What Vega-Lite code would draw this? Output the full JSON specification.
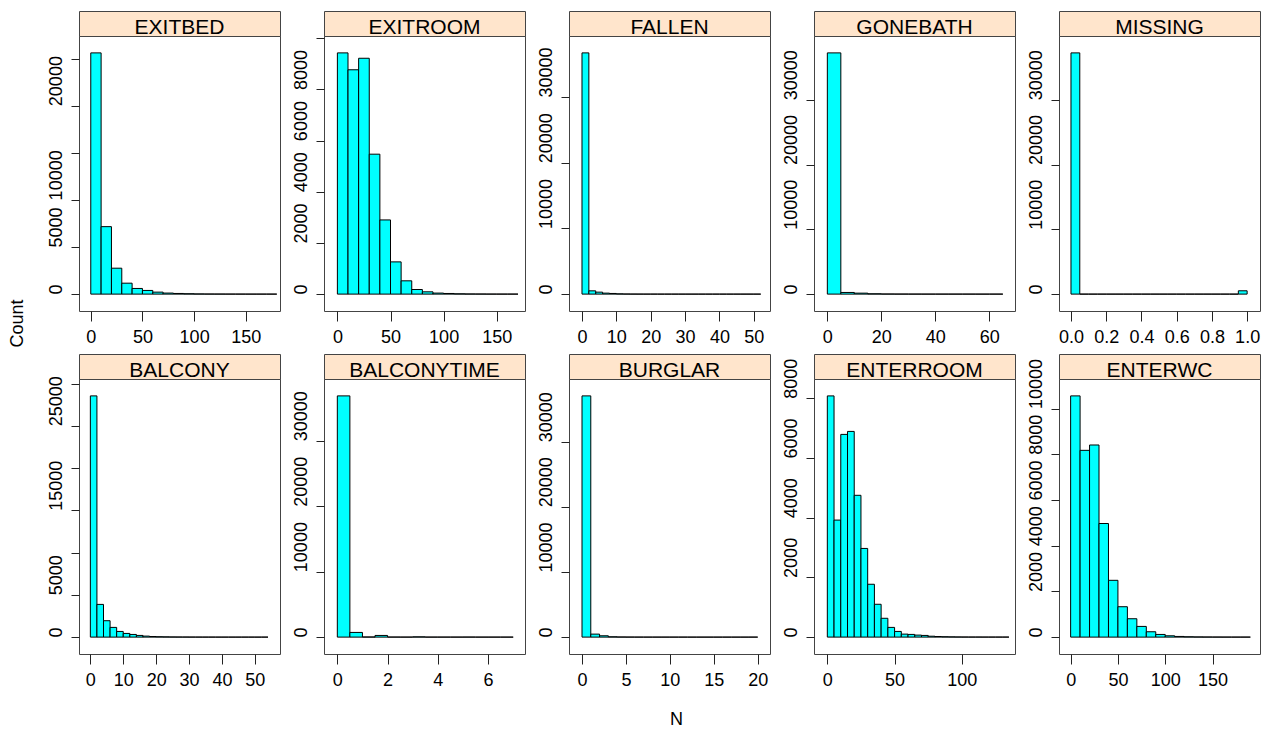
{
"$schema":"https://vega.github.io/schema/vega-lite/v6.json",
"padding":{"left":7,"top":10,"right":5,"bottom":5},
"background":"white",
"config":{
 "font":"Liberation Sans",
 "view":{"stroke":"#444","strokeWidth":1},
 "axis":{"labelFont":"Liberation Sans","labelFontSize":18,"labelColor":"#000","tickColor":"#222","domain":false,"grid":false,"titleFont":"Liberation Sans","titleFontSize":18,"titleColor":"#000","titleFontWeight":"normal","labelOverlap":false,"labelFlush":false,"labelBound":false},
 "axisY":{"labelAngle":270,"labelAlign":"left","labelBaseline":"bottom","labelPadding":6,"tickSize":8,"format":"d"},
 "axisX":{"tickSize":10,"labelPadding":7,"labelAngle":0}
},
"datasets":{"hist":[
{"panel":"EXITBED","lo":0,"hi":10,"count":25600},{"panel":"EXITBED","lo":10,"hi":20,"count":7160},{"panel":"EXITBED","lo":20,"hi":30,"count":2750},{"panel":"EXITBED","lo":30,"hi":40,"count":1160},{"panel":"EXITBED","lo":40,"hi":50,"count":600},{"panel":"EXITBED","lo":50,"hi":60,"count":390},{"panel":"EXITBED","lo":60,"hi":70,"count":210},{"panel":"EXITBED","lo":70,"hi":80,"count":110},{"panel":"EXITBED","lo":80,"hi":90,"count":70},{"panel":"EXITBED","lo":90,"hi":100,"count":40},{"panel":"EXITBED","lo":100,"hi":110,"count":20},{"panel":"EXITBED","lo":110,"hi":120,"count":12},{"panel":"EXITBED","lo":120,"hi":130,"count":8},{"panel":"EXITBED","lo":130,"hi":140,"count":5},{"panel":"EXITBED","lo":140,"hi":150,"count":3},{"panel":"EXITBED","lo":150,"hi":160,"count":2},{"panel":"EXITBED","lo":160,"hi":170,"count":1},{"panel":"EXITBED","lo":170,"hi":180,"count":1},
{"panel":"EXITROOM","lo":0,"hi":10,"count":9430},{"panel":"EXITROOM","lo":10,"hi":20,"count":8770},{"panel":"EXITROOM","lo":20,"hi":30,"count":9220},{"panel":"EXITROOM","lo":30,"hi":40,"count":5470},{"panel":"EXITROOM","lo":40,"hi":50,"count":2900},{"panel":"EXITROOM","lo":50,"hi":60,"count":1260},{"panel":"EXITROOM","lo":60,"hi":70,"count":520},{"panel":"EXITROOM","lo":70,"hi":80,"count":180},{"panel":"EXITROOM","lo":80,"hi":90,"count":90},{"panel":"EXITROOM","lo":90,"hi":100,"count":40},{"panel":"EXITROOM","lo":100,"hi":110,"count":25},{"panel":"EXITROOM","lo":110,"hi":120,"count":12},{"panel":"EXITROOM","lo":120,"hi":130,"count":6},{"panel":"EXITROOM","lo":130,"hi":140,"count":4},{"panel":"EXITROOM","lo":140,"hi":150,"count":2},{"panel":"EXITROOM","lo":150,"hi":160,"count":1},{"panel":"EXITROOM","lo":160,"hi":170,"count":1},
{"panel":"FALLEN","lo":0,"hi":2,"count":36720},{"panel":"FALLEN","lo":2,"hi":4,"count":500},{"panel":"FALLEN","lo":4,"hi":6,"count":300},{"panel":"FALLEN","lo":6,"hi":8,"count":150},{"panel":"FALLEN","lo":8,"hi":10,"count":100},{"panel":"FALLEN","lo":10,"hi":12,"count":40},{"panel":"FALLEN","lo":12,"hi":14,"count":20},{"panel":"FALLEN","lo":14,"hi":16,"count":10},{"panel":"FALLEN","lo":16,"hi":18,"count":5},{"panel":"FALLEN","lo":18,"hi":20,"count":3},{"panel":"FALLEN","lo":20,"hi":22,"count":2},{"panel":"FALLEN","lo":22,"hi":24,"count":1},{"panel":"FALLEN","lo":24,"hi":26,"count":1},{"panel":"FALLEN","lo":26,"hi":28,"count":1},{"panel":"FALLEN","lo":28,"hi":30,"count":0},{"panel":"FALLEN","lo":30,"hi":32,"count":0},{"panel":"FALLEN","lo":32,"hi":34,"count":0},{"panel":"FALLEN","lo":34,"hi":36,"count":0},{"panel":"FALLEN","lo":36,"hi":38,"count":0},{"panel":"FALLEN","lo":38,"hi":40,"count":0},{"panel":"FALLEN","lo":40,"hi":42,"count":0},{"panel":"FALLEN","lo":42,"hi":44,"count":0},{"panel":"FALLEN","lo":44,"hi":46,"count":0},{"panel":"FALLEN","lo":46,"hi":48,"count":0},{"panel":"FALLEN","lo":48,"hi":50,"count":0},{"panel":"FALLEN","lo":50,"hi":52,"count":1},
{"panel":"GONEBATH","lo":0,"hi":5,"count":37230},{"panel":"GONEBATH","lo":5,"hi":10,"count":256},{"panel":"GONEBATH","lo":10,"hi":15,"count":150},{"panel":"GONEBATH","lo":15,"hi":20,"count":50},{"panel":"GONEBATH","lo":20,"hi":25,"count":20},{"panel":"GONEBATH","lo":25,"hi":30,"count":10},{"panel":"GONEBATH","lo":30,"hi":35,"count":5},{"panel":"GONEBATH","lo":35,"hi":40,"count":3},{"panel":"GONEBATH","lo":40,"hi":45,"count":2},{"panel":"GONEBATH","lo":45,"hi":50,"count":1},{"panel":"GONEBATH","lo":50,"hi":55,"count":1},{"panel":"GONEBATH","lo":55,"hi":60,"count":0},{"panel":"GONEBATH","lo":60,"hi":65,"count":1},
{"panel":"MISSING","lo":0,"hi":0.05,"count":37230},{"panel":"MISSING","lo":0.05,"hi":0.1,"count":0},{"panel":"MISSING","lo":0.1,"hi":0.15,"count":0},{"panel":"MISSING","lo":0.15,"hi":0.2,"count":0},{"panel":"MISSING","lo":0.2,"hi":0.25,"count":0},{"panel":"MISSING","lo":0.25,"hi":0.3,"count":0},{"panel":"MISSING","lo":0.3,"hi":0.35,"count":0},{"panel":"MISSING","lo":0.35,"hi":0.4,"count":0},{"panel":"MISSING","lo":0.4,"hi":0.45,"count":0},{"panel":"MISSING","lo":0.45,"hi":0.5,"count":0},{"panel":"MISSING","lo":0.5,"hi":0.55,"count":0},{"panel":"MISSING","lo":0.55,"hi":0.6,"count":0},{"panel":"MISSING","lo":0.6,"hi":0.65,"count":0},{"panel":"MISSING","lo":0.65,"hi":0.7,"count":0},{"panel":"MISSING","lo":0.7,"hi":0.75,"count":0},{"panel":"MISSING","lo":0.75,"hi":0.8,"count":0},{"panel":"MISSING","lo":0.8,"hi":0.85,"count":0},{"panel":"MISSING","lo":0.85,"hi":0.9,"count":0},{"panel":"MISSING","lo":0.9,"hi":0.95,"count":0},{"panel":"MISSING","lo":0.95,"hi":1.0,"count":513},
{"panel":"BALCONY","lo":0,"hi":2,"count":28540},{"panel":"BALCONY","lo":2,"hi":4,"count":3870},{"panel":"BALCONY","lo":4,"hi":6,"count":1940},{"panel":"BALCONY","lo":6,"hi":8,"count":1150},{"panel":"BALCONY","lo":8,"hi":10,"count":670},{"panel":"BALCONY","lo":10,"hi":12,"count":435},{"panel":"BALCONY","lo":12,"hi":14,"count":316},{"panel":"BALCONY","lo":14,"hi":16,"count":200},{"panel":"BALCONY","lo":16,"hi":18,"count":120},{"panel":"BALCONY","lo":18,"hi":20,"count":70},{"panel":"BALCONY","lo":20,"hi":22,"count":45},{"panel":"BALCONY","lo":22,"hi":24,"count":30},{"panel":"BALCONY","lo":24,"hi":26,"count":20},{"panel":"BALCONY","lo":26,"hi":28,"count":15},{"panel":"BALCONY","lo":28,"hi":30,"count":10},{"panel":"BALCONY","lo":30,"hi":32,"count":7},{"panel":"BALCONY","lo":32,"hi":34,"count":5},{"panel":"BALCONY","lo":34,"hi":36,"count":4},{"panel":"BALCONY","lo":36,"hi":38,"count":3},{"panel":"BALCONY","lo":38,"hi":40,"count":2},{"panel":"BALCONY","lo":40,"hi":42,"count":2},{"panel":"BALCONY","lo":42,"hi":44,"count":1},{"panel":"BALCONY","lo":44,"hi":46,"count":1},{"panel":"BALCONY","lo":46,"hi":48,"count":1},{"panel":"BALCONY","lo":48,"hi":50,"count":1},{"panel":"BALCONY","lo":50,"hi":52,"count":0},{"panel":"BALCONY","lo":52,"hi":54,"count":1},
{"panel":"BALCONYTIME","lo":0,"hi":0.5,"count":36850},{"panel":"BALCONYTIME","lo":0.5,"hi":1,"count":714},{"panel":"BALCONYTIME","lo":1,"hi":1.5,"count":20},{"panel":"BALCONYTIME","lo":1.5,"hi":2,"count":255},{"panel":"BALCONYTIME","lo":2,"hi":2.5,"count":10},{"panel":"BALCONYTIME","lo":2.5,"hi":3,"count":5},{"panel":"BALCONYTIME","lo":3,"hi":3.5,"count":40},{"panel":"BALCONYTIME","lo":3.5,"hi":4,"count":5},{"panel":"BALCONYTIME","lo":4,"hi":4.5,"count":5},{"panel":"BALCONYTIME","lo":4.5,"hi":5,"count":3},{"panel":"BALCONYTIME","lo":5,"hi":5.5,"count":8},{"panel":"BALCONYTIME","lo":5.5,"hi":6,"count":2},{"panel":"BALCONYTIME","lo":6,"hi":6.5,"count":2},{"panel":"BALCONYTIME","lo":6.5,"hi":7,"count":1},
{"panel":"BURGLAR","lo":0,"hi":1,"count":37030},{"panel":"BURGLAR","lo":1,"hi":2,"count":460},{"panel":"BURGLAR","lo":2,"hi":3,"count":205},{"panel":"BURGLAR","lo":3,"hi":4,"count":50},{"panel":"BURGLAR","lo":4,"hi":5,"count":20},{"panel":"BURGLAR","lo":5,"hi":6,"count":10},{"panel":"BURGLAR","lo":6,"hi":7,"count":5},{"panel":"BURGLAR","lo":7,"hi":8,"count":3},{"panel":"BURGLAR","lo":8,"hi":9,"count":2},{"panel":"BURGLAR","lo":9,"hi":10,"count":1},{"panel":"BURGLAR","lo":10,"hi":11,"count":1},{"panel":"BURGLAR","lo":11,"hi":12,"count":1},{"panel":"BURGLAR","lo":12,"hi":13,"count":0},{"panel":"BURGLAR","lo":13,"hi":14,"count":0},{"panel":"BURGLAR","lo":14,"hi":15,"count":0},{"panel":"BURGLAR","lo":15,"hi":16,"count":0},{"panel":"BURGLAR","lo":16,"hi":17,"count":0},{"panel":"BURGLAR","lo":17,"hi":18,"count":0},{"panel":"BURGLAR","lo":18,"hi":19,"count":0},{"panel":"BURGLAR","lo":19,"hi":20,"count":1},
{"panel":"ENTERROOM","lo":0,"hi":5,"count":8080},{"panel":"ENTERROOM","lo":5,"hi":10,"count":3920},{"panel":"ENTERROOM","lo":10,"hi":15,"count":6790},{"panel":"ENTERROOM","lo":15,"hi":20,"count":6890},{"panel":"ENTERROOM","lo":20,"hi":25,"count":4750},{"panel":"ENTERROOM","lo":25,"hi":30,"count":2970},{"panel":"ENTERROOM","lo":30,"hi":35,"count":1770},{"panel":"ENTERROOM","lo":35,"hi":40,"count":1100},{"panel":"ENTERROOM","lo":40,"hi":45,"count":630},{"panel":"ENTERROOM","lo":45,"hi":50,"count":325},{"panel":"ENTERROOM","lo":50,"hi":55,"count":190},{"panel":"ENTERROOM","lo":55,"hi":60,"count":100},{"panel":"ENTERROOM","lo":60,"hi":65,"count":90},{"panel":"ENTERROOM","lo":65,"hi":70,"count":67},{"panel":"ENTERROOM","lo":70,"hi":75,"count":56},{"panel":"ENTERROOM","lo":75,"hi":80,"count":30},{"panel":"ENTERROOM","lo":80,"hi":85,"count":20},{"panel":"ENTERROOM","lo":85,"hi":90,"count":12},{"panel":"ENTERROOM","lo":90,"hi":95,"count":8},{"panel":"ENTERROOM","lo":95,"hi":100,"count":5},{"panel":"ENTERROOM","lo":100,"hi":105,"count":3},{"panel":"ENTERROOM","lo":105,"hi":110,"count":2},{"panel":"ENTERROOM","lo":110,"hi":115,"count":2},{"panel":"ENTERROOM","lo":115,"hi":120,"count":1},{"panel":"ENTERROOM","lo":120,"hi":125,"count":1},{"panel":"ENTERROOM","lo":125,"hi":130,"count":1},{"panel":"ENTERROOM","lo":130,"hi":135,"count":1},
{"panel":"ENTERWC","lo":0,"hi":10,"count":10556},{"panel":"ENTERWC","lo":10,"hi":20,"count":8173},{"panel":"ENTERWC","lo":20,"hi":30,"count":8407},{"panel":"ENTERWC","lo":30,"hi":40,"count":4971},{"panel":"ENTERWC","lo":40,"hi":50,"count":2485},{"panel":"ENTERWC","lo":50,"hi":60,"count":1330},{"panel":"ENTERWC","lo":60,"hi":70,"count":804},{"panel":"ENTERWC","lo":70,"hi":80,"count":468},{"panel":"ENTERWC","lo":80,"hi":90,"count":234},{"panel":"ENTERWC","lo":90,"hi":100,"count":117},{"panel":"ENTERWC","lo":100,"hi":110,"count":58},{"panel":"ENTERWC","lo":110,"hi":120,"count":29},{"panel":"ENTERWC","lo":120,"hi":130,"count":15},{"panel":"ENTERWC","lo":130,"hi":140,"count":8},{"panel":"ENTERWC","lo":140,"hi":150,"count":5},{"panel":"ENTERWC","lo":150,"hi":160,"count":3},{"panel":"ENTERWC","lo":160,"hi":170,"count":2},{"panel":"ENTERWC","lo":170,"hi":180,"count":1},{"panel":"ENTERWC","lo":180,"hi":190,"count":1}
]},
"data":{"name":"hist"},
"spacing":5,
"vconcat":[
{"hconcat":[
 {"spacing":0,"bounds":"flush","vconcat":[
  {"width":201,"height":25,"view":{"fill":"#ffe5cc","stroke":"#444"},"transform":[{"filter":"datum.panel=='EXITBED'"},{"aggregate":[{"op":"count","as":"n"}],"groupby":["panel"]}],"mark":{"type":"text","fontSize":21,"baseline":"alphabetic","dy":10,"color":"#000"},"encoding":{"text":{"field":"panel"}}},
  {"width":201,"height":275,"transform":[{"filter":"datum.panel=='EXITBED'"}],"mark":{"type":"rect","fill":"#00ffff","stroke":"#000","strokeWidth":1,"clip":true},
   "encoding":{"x":{"field":"lo","type":"quantitative","scale":{"domain":[-11.4,183.1],"nice":false},"axis":{"values":[0,50,100,150],"title":null}},"x2":{"field":"hi"},
   "y":{"field":"count","type":"quantitative","scale":{"domain":[-1792,27392],"nice":false},"axis":{"values":[0,5000,10000,15000,20000,25000],"format":"d","labelExpr":"indexof([15000,25000], datum.value) >= 0 ? '' : datum.label","title":"Count","titleX":-62,"titleY":287,"titleAngle":270,"titleAlign":"center","titleBaseline":"middle"}},"y2":{"datum":0}}}
 ]},
 {"spacing":0,"bounds":"flush","vconcat":[
  {"width":201,"height":25,"view":{"fill":"#ffe5cc","stroke":"#444"},"transform":[{"filter":"datum.panel=='EXITROOM'"},{"aggregate":[{"op":"count","as":"n"}],"groupby":["panel"]}],"mark":{"type":"text","fontSize":21,"baseline":"alphabetic","dy":10,"color":"#000"},"encoding":{"text":{"field":"panel"}}},
  {"width":201,"height":275,"transform":[{"filter":"datum.panel=='EXITROOM'"}],"mark":{"type":"rect","fill":"#00ffff","stroke":"#000","strokeWidth":1,"clip":true},
   "encoding":{"x":{"field":"lo","type":"quantitative","scale":{"domain":[-12.6,176.6],"nice":false},"axis":{"values":[0,50,100,150],"title":null}},"x2":{"field":"hi"},
   "y":{"field":"count","type":"quantitative","scale":{"domain":[-660,10090],"nice":false},"axis":{"values":[0,2000,4000,6000,8000,10000],"format":"d","labelExpr":"datum.value == 10000 ? '' : datum.label","title":null}},"y2":{"datum":0}}}
 ]},
 {"spacing":0,"bounds":"flush","vconcat":[
  {"width":201,"height":25,"view":{"fill":"#ffe5cc","stroke":"#444"},"transform":[{"filter":"datum.panel=='FALLEN'"},{"aggregate":[{"op":"count","as":"n"}],"groupby":["panel"]}],"mark":{"type":"text","fontSize":21,"baseline":"alphabetic","dy":10,"color":"#000"},"encoding":{"text":{"field":"panel"}}},
  {"width":201,"height":275,"transform":[{"filter":"datum.panel=='FALLEN'"}],"mark":{"type":"rect","fill":"#00ffff","stroke":"#000","strokeWidth":1,"clip":true},
   "encoding":{"x":{"field":"lo","type":"quantitative","scale":{"domain":[-3.78,54.7],"nice":false},"axis":{"values":[0,10,20,30,40,50],"title":null}},"x2":{"field":"hi"},
   "y":{"field":"count","type":"quantitative","scale":{"domain":[-2570,39290],"nice":false},"axis":{"values":[0,10000,20000,30000],"format":"d","title":null}},"y2":{"datum":0}}}
 ]},
 {"spacing":0,"bounds":"flush","vconcat":[
  {"width":201,"height":25,"view":{"fill":"#ffe5cc","stroke":"#444"},"transform":[{"filter":"datum.panel=='GONEBATH'"},{"aggregate":[{"op":"count","as":"n"}],"groupby":["panel"]}],"mark":{"type":"text","fontSize":21,"baseline":"alphabetic","dy":10,"color":"#000"},"encoding":{"text":{"field":"panel"}}},
  {"width":201,"height":275,"transform":[{"filter":"datum.panel=='GONEBATH'"}],"mark":{"type":"rect","fill":"#00ffff","stroke":"#000","strokeWidth":1,"clip":true},
   "encoding":{"x":{"field":"lo","type":"quantitative","scale":{"domain":[-4.94,69.5],"nice":false},"axis":{"values":[0,20,40,60],"title":null}},"x2":{"field":"hi"},
   "y":{"field":"count","type":"quantitative","scale":{"domain":[-2606,39836],"nice":false},"axis":{"values":[0,10000,20000,30000],"format":"d","title":null}},"y2":{"datum":0}}}
 ]},
 {"spacing":0,"bounds":"flush","vconcat":[
  {"width":201,"height":25,"view":{"fill":"#ffe5cc","stroke":"#444"},"transform":[{"filter":"datum.panel=='MISSING'"},{"aggregate":[{"op":"count","as":"n"}],"groupby":["panel"]}],"mark":{"type":"text","fontSize":21,"baseline":"alphabetic","dy":10,"color":"#000"},"encoding":{"text":{"field":"panel"}}},
  {"width":201,"height":275,"transform":[{"filter":"datum.panel=='MISSING'"}],"mark":{"type":"rect","fill":"#00ffff","stroke":"#000","strokeWidth":1,"clip":true},
   "encoding":{"x":{"field":"lo","type":"quantitative","scale":{"domain":[-0.068,1.073],"nice":false},"axis":{"values":[0,0.2,0.4,0.6,0.8,1.0],"format":".1f","title":null}},"x2":{"field":"hi"},
   "y":{"field":"count","type":"quantitative","scale":{"domain":[-2606,39836],"nice":false},"axis":{"values":[0,10000,20000,30000],"format":"d","title":null}},"y2":{"datum":0}}}
 ]}
],"spacing":10},
{"hconcat":[
 {"spacing":0,"bounds":"flush","vconcat":[
  {"width":201,"height":25,"view":{"fill":"#ffe5cc","stroke":"#444"},"transform":[{"filter":"datum.panel=='BALCONY'"},{"aggregate":[{"op":"count","as":"n"}],"groupby":["panel"]}],"mark":{"type":"text","fontSize":21,"baseline":"alphabetic","dy":10,"color":"#000"},"encoding":{"text":{"field":"panel"}}},
  {"width":201,"height":275,"transform":[{"filter":"datum.panel=='BALCONY'"}],"mark":{"type":"rect","fill":"#00ffff","stroke":"#000","strokeWidth":1,"clip":true},
   "encoding":{"x":{"field":"lo","type":"quantitative","scale":{"domain":[-3.45,57.65],"nice":false},"axis":{"values":[0,10,20,30,40,50],"title":null}},"x2":{"field":"hi"},
   "y":{"field":"count","type":"quantitative","scale":{"domain":[-1998,30538],"nice":false},"axis":{"values":[0,5000,10000,15000,20000,25000,30000],"format":"d","labelExpr":"indexof([10000,20000,30000], datum.value) >= 0 ? '' : datum.label","title":null}},"y2":{"datum":0}}}
 ]},
 {"spacing":0,"bounds":"flush","vconcat":[
  {"width":201,"height":25,"view":{"fill":"#ffe5cc","stroke":"#444"},"transform":[{"filter":"datum.panel=='BALCONYTIME'"},{"aggregate":[{"op":"count","as":"n"}],"groupby":["panel"]}],"mark":{"type":"text","fontSize":21,"baseline":"alphabetic","dy":10,"color":"#000"},"encoding":{"text":{"field":"panel"}}},
  {"width":201,"height":275,"transform":[{"filter":"datum.panel=='BALCONYTIME'"}],"mark":{"type":"rect","fill":"#00ffff","stroke":"#000","strokeWidth":1,"clip":true},
   "encoding":{"x":{"field":"lo","type":"quantitative","scale":{"domain":[-0.53,7.47],"nice":false},"axis":{"values":[0,2,4,6],"title":null}},"x2":{"field":"hi"},
   "y":{"field":"count","type":"quantitative","scale":{"domain":[-2580,39430],"nice":false},"axis":{"values":[0,10000,20000,30000],"format":"d","title":null}},"y2":{"datum":0}}}
 ]},
 {"spacing":0,"bounds":"flush","vconcat":[
  {"width":201,"height":25,"view":{"fill":"#ffe5cc","stroke":"#444"},"transform":[{"filter":"datum.panel=='BURGLAR'"},{"aggregate":[{"op":"count","as":"n"}],"groupby":["panel"]}],"mark":{"type":"text","fontSize":21,"baseline":"alphabetic","dy":10,"color":"#000"},"encoding":{"text":{"field":"panel"}}},
  {"width":201,"height":275,"transform":[{"filter":"datum.panel=='BURGLAR'"}],"mark":{"type":"rect","fill":"#00ffff","stroke":"#000","strokeWidth":1,"clip":true},
   "encoding":{"x":{"field":"lo","type":"quantitative","scale":{"domain":[-1.48,21.4],"nice":false},"axis":{"values":[0,5,10,15,20],"title":"N","titleX":107,"titleY":65,"titleAlign":"center","titleBaseline":"middle"}},"x2":{"field":"hi"},
   "y":{"field":"count","type":"quantitative","scale":{"domain":[-2592,39622],"nice":false},"axis":{"values":[0,10000,20000,30000],"format":"d","title":null}},"y2":{"datum":0}}}
 ]},
 {"spacing":0,"bounds":"flush","vconcat":[
  {"width":201,"height":25,"view":{"fill":"#ffe5cc","stroke":"#444"},"transform":[{"filter":"datum.panel=='ENTERROOM'"},{"aggregate":[{"op":"count","as":"n"}],"groupby":["panel"]}],"mark":{"type":"text","fontSize":21,"baseline":"alphabetic","dy":10,"color":"#000"},"encoding":{"text":{"field":"panel"}}},
  {"width":201,"height":275,"transform":[{"filter":"datum.panel=='ENTERROOM'"}],"mark":{"type":"rect","fill":"#00ffff","stroke":"#000","strokeWidth":1,"clip":true},
   "encoding":{"x":{"field":"lo","type":"quantitative","scale":{"domain":[-9.9,139.5],"nice":false},"axis":{"values":[0,50,100],"title":null}},"x2":{"field":"hi"},
   "y":{"field":"count","type":"quantitative","scale":{"domain":[-566,8646],"nice":false},"axis":{"values":[0,2000,4000,6000,8000],"format":"d","title":null}},"y2":{"datum":0}}}
 ]},
 {"spacing":0,"bounds":"flush","vconcat":[
  {"width":201,"height":25,"view":{"fill":"#ffe5cc","stroke":"#444"},"transform":[{"filter":"datum.panel=='ENTERWC'"},{"aggregate":[{"op":"count","as":"n"}],"groupby":["panel"]}],"mark":{"type":"text","fontSize":21,"baseline":"alphabetic","dy":10,"color":"#000"},"encoding":{"text":{"field":"panel"}}},
  {"width":201,"height":275,"transform":[{"filter":"datum.panel=='ENTERWC'"}],"mark":{"type":"rect","fill":"#00ffff","stroke":"#000","strokeWidth":1,"clip":true},
   "encoding":{"x":{"field":"lo","type":"quantitative","scale":{"domain":[-12.3,200.2],"nice":false},"axis":{"values":[0,50,100,150],"title":null}},"x2":{"field":"hi"},
   "y":{"field":"count","type":"quantitative","scale":{"domain":[-739,11295],"nice":false},"axis":{"values":[0,2000,4000,6000,8000,10000],"format":"d","title":null}},"y2":{"datum":0}}}
 ]}
],"spacing":10}
]
}
